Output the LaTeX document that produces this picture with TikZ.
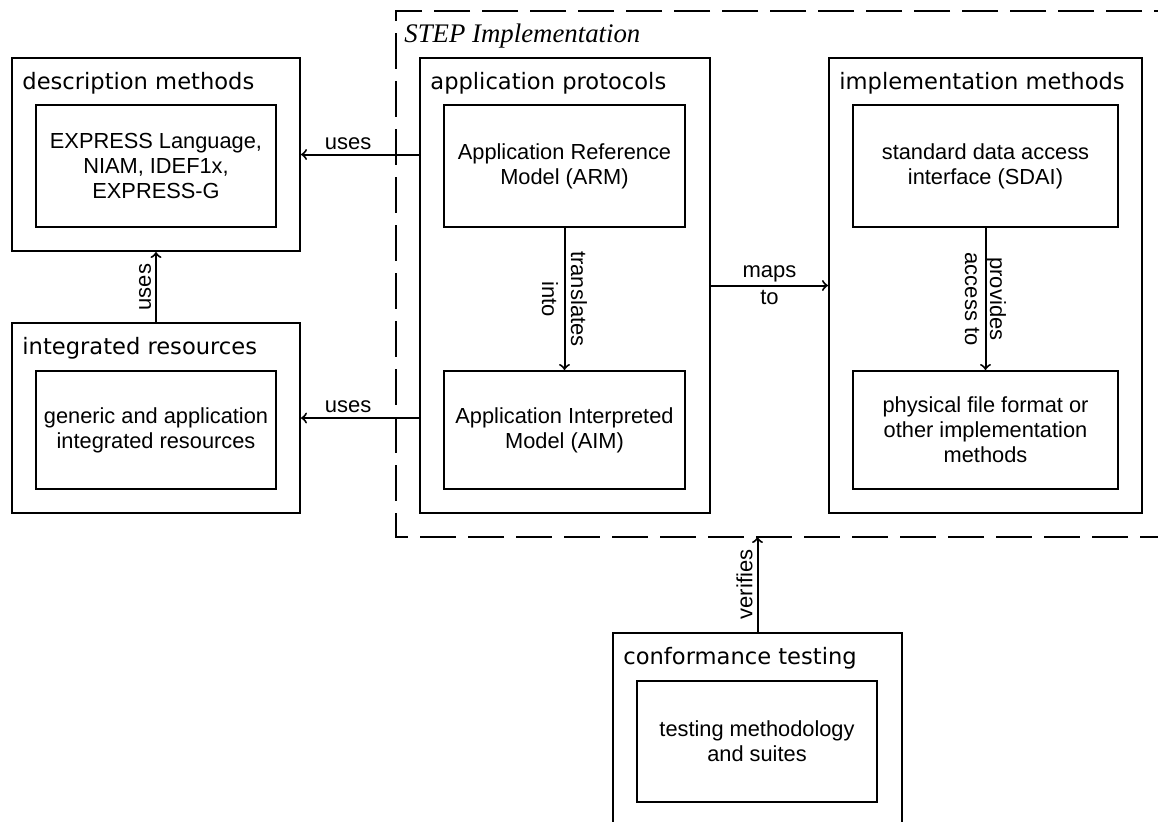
\documentclass[tikz,border=0pt]{standalone}
\usepackage{fontspec}
\setmainfont{Liberation Sans}
\newfontfamily\labelfont{DejaVu Sans}
\newfontfamily\framefont{Liberation Serif}
\usetikzlibrary{backgrounds}

\begin{document}
\begin{tikzpicture}[x=0.5pt,y=-0.5pt]
  \tikzset{background rectangle/.style={fill=white}, inner frame sep=0pt}
  \tikzset{show background rectangle}

  \tikzset{outerbox/.style={rectangle, draw, line width=1pt, inner sep=0pt}}
  \tikzset{innerbox/.style={rectangle, draw, line width=1pt, inner sep=0pt, align=center, font=\fontsize{10.9}{12.5}\selectfont}}
  \tikzset{boxlabel/.style={anchor=west, inner sep=0pt, font=\labelfont\fontsize{11.3}{13}\selectfont}}
  \tikzset{linklabel/.style={inner sep=2pt, align=center, font=\fontsize{11}{12.5}\selectfont}}
  \tikzset{link/.style={->, line width=1pt}}

  \useasboundingbox (0,0) rectangle (1158,821);
  \clip (0,0) rectangle (1158,821);

  % STEP frame, open to the right
  \draw[dash pattern=on 18pt off 6pt, line width=1pt] (1190,11) -- (396,11) -- (396,537) -- (1190,537);
  \coordinate (stepbottom) at (396,537);
  \node[anchor=west, inner sep=0pt, font=\framefont\itshape\fontsize{13.4}{15}\selectfont] (steplabel) at (404,36) {STEP Implementation};

  \node[outerbox, minimum width=144pt, minimum height=96.5pt] (desc) at (156,154.5) {};
  \node[boxlabel] (desclabel) at (22,83) {description methods};
  \node[innerbox, minimum width=120pt, minimum height=61pt] (express) at (156,166) {EXPRESS Language,\\NIAM, IDEF1x,\\EXPRESS-G};

  \node[outerbox, minimum width=144pt, minimum height=95pt] (integ) at (156,418) {};
  \node[boxlabel] (integlabel) at (22,348) {integrated resources};
  \node[innerbox, minimum width=120pt, minimum height=59pt] (generic) at (156,430) {generic and application\\integrated resources};

  \node[outerbox, minimum width=145pt, minimum height=227.5pt] (ap) at (565,285.5) {};
  \node[boxlabel] (aplabel) at (430,83) {application protocols};
  \node[innerbox, minimum width=120.5pt, minimum height=61pt] (arm) at (564.5,166) {Application Reference\\Model (ARM)};
  \node[innerbox, minimum width=120.5pt, minimum height=59pt] (aim) at (564.5,430) {Application Interpreted\\Model (AIM)};

  \node[outerbox, minimum width=156.5pt, minimum height=227.5pt] (impl) at (985.5,285.5) {};
  \node[boxlabel] (impllabel) at (839,83) {implementation methods};
  \node[innerbox, minimum width=132.5pt, minimum height=61pt] (sdai) at (985.5,166) {standard data access\\interface (SDAI)};
  \node[innerbox, minimum width=132.5pt, minimum height=59pt] (phys) at (985.5,430) {physical file format or\\other implementation\\methods};

  \node[outerbox, minimum width=144.5pt, minimum height=113.5pt] (conf) at (757.5,746.5) {};
  \node[boxlabel] (conflabel) at (623,658) {conformance testing};
  \node[innerbox, minimum width=120pt, minimum height=60.5pt] (testing) at (757,741.5) {testing methodology\\and suites};

  \draw[link] (ap.west |- desc.east) -- node[linklabel, pos=0.6, above] {uses} (desc.east);
  \draw[link] (ap.west |- integ.east) -- node[linklabel, pos=0.6, above] {uses} (integ.east);
  \draw[link] (integ.north) -- node[linklabel, midway, rotate=90, above] {uses} (desc.south);
  \draw[link] (arm.south) -- node[linklabel, midway, rotate=-90] {translates\\[2pt]into} (aim.north);
  \draw[link] (ap.east) -- node[linklabel, midway] {maps\\[1pt]to} (impl.west);
  \draw[link] (sdai.south) -- node[linklabel, midway, rotate=-90] {provides\\access to} (phys.north);
  \draw[link] (conf.north) -- node[linklabel, midway, rotate=90, above] {verifies} (conf.north |- stepbottom);
\end{tikzpicture}
\end{document}
